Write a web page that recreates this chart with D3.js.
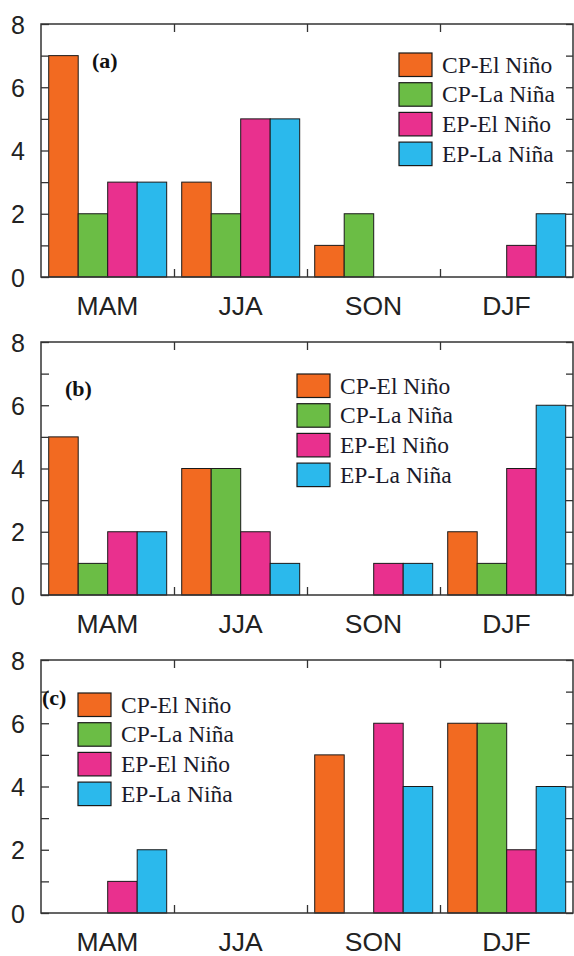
<!DOCTYPE html>
<html><head><meta charset="utf-8">
<script src="https://cdn.jsdelivr.net/npm/d3@7"></script>
<style>body{margin:0;background:#fff}svg{display:block}</style>
</head><body>
<svg id="c" width="574" height="956"></svg>
<script>
const seasons = ["MAM","JJA","SON","DJF"];
const seriesNames = ["CP-El Niño","CP-La Niña","EP-El Niño","EP-La Niña"];
const colors = ["#f26a21","#6bbd45","#e9308e","#2bb9ec"];
const yTicks = [0,2,4,6,8];
const panelLabels = ["(a)","(b)","(c)"];
// values[season][series]
const panelA = [[7,2,3,3],[3,2,5,5],[1,2,0,0],[0,0,1,2]];
const panelB = [[5,1,2,2],[4,4,2,1],[0,0,1,1],[2,1,4,6]];
const panelC = [[0,0,1,2],[0,0,0,0],[5,0,6,4],[6,6,2,4]];
const panels = [panelA, panelB, panelC];

const svg = d3.select("#c");
const L = 41, R = 573;
const tops = [24, 342, 660], H = 253;
const labelPos = [{x:92,y:68},{x:65,y:396},{x:42,y:705}];
const legendPos = [{x:399,y:53},{x:297,y:374},{x:78,y:693}];

panels.forEach((data, pi) => {
  const top = tops[pi], bottom = top + H;
  const g = svg.append("g");
  const x0 = d3.scaleBand().domain(seasons).range([L, R]);
  const bw = x0.bandwidth();
  const x1 = d3.scaleBand().domain(d3.range(4)).range([bw*0.058, bw*0.945]);
  const y = d3.scaleLinear().domain([0,8]).range([bottom, top]);

  // bars
  seasons.forEach((s, si) => {
    data[si].forEach((v, k) => {
      if (v <= 0) return;
      g.append("rect")
        .attr("x", x0(s) + x1(k))
        .attr("y", y(v))
        .attr("width", x1.bandwidth())
        .attr("height", y(0) - y(v))
        .attr("fill", colors[k])
        .attr("stroke", "#1a1a1a")
        .attr("stroke-width", 1);
    });
  });

  // left axis
  const yAxis = d3.axisLeft(y).tickValues(d3.range(0,9)).tickSize(-8)
    .tickFormat(d => yTicks.includes(d) ? d : "").tickPadding(16);
  const ya = g.append("g").attr("transform", `translate(${L},0)`).call(yAxis);
  ya.select(".domain").remove();
  ya.selectAll("line").attr("stroke", "#333").attr("stroke-width", 1.3);
  ya.selectAll("text").attr("font-family", "Liberation Sans, Arial, sans-serif")
    .attr("font-size", 25).attr("fill", "#222").attr("dy", "0.36em");

  // right axis ticks
  const yr = g.append("g").attr("transform", `translate(${R},0)`)
    .call(d3.axisRight(y).tickValues(d3.range(0,9)).tickSize(-7).tickFormat(""));
  yr.select(".domain").remove();
  yr.selectAll("line").attr("stroke", "#333").attr("stroke-width", 1.3);

  // top/bottom ticks at group boundaries
  const bounds = seasons.slice(1).map(s => x0(s));
  const xt = d3.scaleLinear().domain([L,R]).range([L,R]);
  const topAx = g.append("g").attr("transform", `translate(0,${top})`)
    .call(d3.axisTop(xt).tickValues(bounds).tickSize(-8).tickFormat(""));
  topAx.select(".domain").remove();
  topAx.selectAll("line").attr("stroke", "#333").attr("stroke-width", 1.3);
  const botAx = g.append("g").attr("transform", `translate(0,${bottom})`)
    .call(d3.axisBottom(xt).tickValues(bounds).tickSize(-8).tickFormat(""));
  botAx.select(".domain").remove();
  botAx.selectAll("line").attr("stroke", "#333").attr("stroke-width", 1.3);

  // category labels
  const xa = g.append("g").attr("transform", `translate(0,${bottom})`)
    .call(d3.axisBottom(x0).tickSize(0).tickPadding(0));
  xa.select(".domain").remove();
  xa.selectAll("text").attr("font-family", "Liberation Sans, Arial, sans-serif")
    .attr("font-size", 26.5).attr("fill", "#222").attr("dy", null).attr("y", 37.5);

  // frame
  g.append("rect").attr("x", L).attr("y", top).attr("width", R - L).attr("height", H)
    .attr("fill", "none").attr("stroke", "#333").attr("stroke-width", 1.5);

  // panel label
  g.append("text").attr("x", labelPos[pi].x).attr("y", labelPos[pi].y)
    .attr("font-family", "Liberation Serif, Times New Roman, serif")
    .attr("font-weight", "bold").attr("font-size", 22).attr("fill", "#111")
    .text(panelLabels[pi]);

  // legend
  const lg = g.append("g").attr("transform", `translate(${legendPos[pi].x},${legendPos[pi].y})`);
  seriesNames.forEach((n, k) => {
    lg.append("rect").attr("x", 0).attr("y", k*29.7).attr("width", 33).attr("height", 23.5)
      .attr("fill", colors[k]).attr("stroke", "#1a1a1a").attr("stroke-width", 1.2);
    lg.append("text").attr("x", 43).attr("y", k*29.7 + 19.5)
      .attr("font-family", "Liberation Serif, Times New Roman, serif")
      .attr("font-size", 23.5).attr("fill", "#1a1a2a").text(n);
  });
});
</script>
</body></html>
